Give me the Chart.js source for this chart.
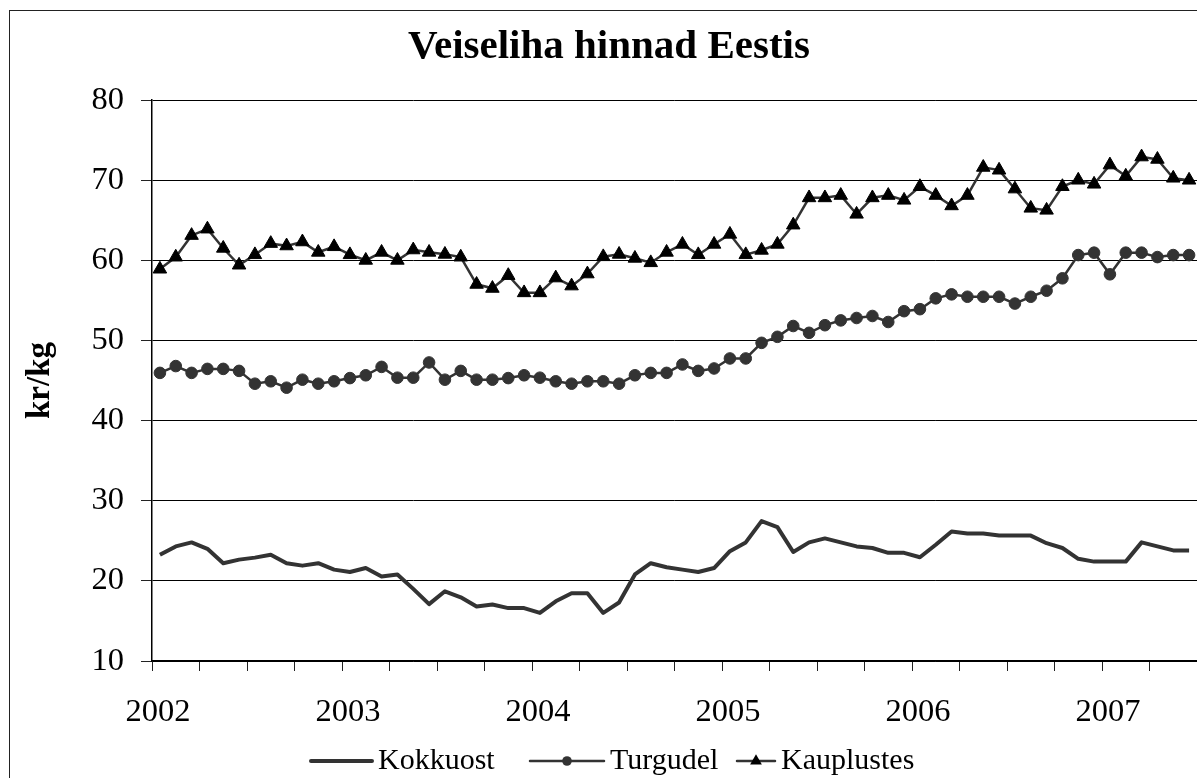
<!DOCTYPE html>
<html lang="et">
<head>
<meta charset="utf-8">
<title>Veiseliha hinnad Eestis</title>
<script src="https://cdn.jsdelivr.net/npm/chart.js@4.4.1/dist/chart.umd.min.js"></script>
<style>
  html, body { margin: 0; padding: 0; background: #fff; overflow: hidden; }
  body { width: 1197px; height: 778px; position: relative; }
  #raam { position: absolute; left: 9px; top: 10px; width: 1400px; height: 1000px; border: 1px solid #222; box-sizing: border-box; }
  #graafik { position: absolute; left: 0; top: 0; }
</style>
</head>
<body>
<div id="raam"></div>
<canvas id="graafik" width="1197" height="778"></canvas>
<script>
// aastad x-teljel (iga 12 kuu tagant)
const aastad = ['2002', '2003', '2004', '2005', '2006', '2007'];

// kuised hinnad, jaan 2002 - juuni 2007 (kr/kg)
const kokkuost = [
    23.25, 24.3, 24.8, 24.0, 22.2, 22.65, 22.9, 23.25, 22.2, 21.9, 22.2, 21.4,
    21.1, 21.6, 20.55, 20.8, 19.0, 17.1, 18.7, 17.95, 16.8, 17.05, 16.6, 16.6,
    16.0, 17.45, 18.45, 18.45, 16.0, 17.3, 20.8, 22.2, 21.7, 21.4, 21.1, 21.6,
    23.7, 24.8, 27.45, 26.7, 23.6, 24.8, 25.3, 24.8, 24.3, 24.1, 23.5, 23.5,
    22.95, 24.5, 26.15, 25.9, 25.9, 25.65, 25.65, 25.65, 24.7, 24.1, 22.75, 22.4,
    22.4, 22.4, 24.8, 24.3, 23.8, 23.8
];
const turgudel = [
    45.95, 46.8, 45.95, 46.45, 46.45, 46.2, 44.6, 44.9, 44.1, 45.1, 44.6, 44.9,
    45.3, 45.65, 46.7, 45.35, 45.35, 47.25, 45.1, 46.2, 45.1, 45.1, 45.3, 45.65,
    45.35, 44.9, 44.6, 44.9, 44.9, 44.6, 45.65, 45.95, 45.95, 47.0, 46.2, 46.5,
    47.75, 47.75, 49.7, 50.45, 51.8, 50.95, 51.9, 52.5, 52.8, 53.05, 52.3, 53.65,
    53.9, 55.25, 55.75, 55.45, 55.45, 55.45, 54.6, 55.45, 56.2, 57.75, 60.65, 60.95,
    58.25, 60.95, 60.95, 60.4, 60.65, 60.65
];
const kauplustes = [
    58.9, 60.4, 63.1, 63.9, 61.5, 59.4, 60.7, 62.1, 61.8, 62.3, 61.0, 61.7,
    60.7, 60.0, 61.0, 60.0, 61.3, 61.0, 60.75, 60.4, 57.0, 56.5, 58.1, 55.95,
    55.95, 57.8, 56.8, 58.3, 60.45, 60.75, 60.25, 59.7, 61.0, 62.0, 60.7, 62.0,
    63.25, 60.7, 61.25, 62.0, 64.4, 67.8, 67.8, 68.1, 65.75, 67.8, 68.1, 67.5,
    69.2, 68.1, 66.8, 68.1, 71.6, 71.25, 68.9, 66.5, 66.25, 69.2, 70.0, 69.5,
    71.9, 70.5, 72.9, 72.6, 70.25, 70.0
];

// kuu keskpunkt lineaarsel teljel (kuu number + 0.5)
function punktid(arr) {
    return arr.map((v, i) => ({ x: i + 0.5, y: v }));
}

// pealkiri on originaalis veidi paremal
const pealkiriNihe = {
    id: 'pealkiriNihe',
    afterLayout(chart) {
        const t = chart.titleBlock;
        if (!t) return;
        const dx = 609 - (t.left + t.right) / 2;
        t.left += dx;
        t.right += dx;
    }
};

// legend all: joon + marker + tekst (asukohad originaalist mõõdetud)
const legendiKohad = [
    { joonAlgus: 311, joonLopp: 372, tekst: 378 },
    { joonAlgus: 530, joonLopp: 604, tekst: 610 },
    { joonAlgus: 737, joonLopp: 775, tekst: 781 }
];

const alumineLegend = {
    id: 'alumineLegend',
    afterDraw(chart) {
        const ctx = chart.ctx;
        const y = 761;
        ctx.save();
        ctx.font = '30px "Liberation Serif", "Times New Roman", serif';
        ctx.textBaseline = 'middle';
        ctx.textAlign = 'left';
        chart.data.datasets.forEach((ds, i) => {
            const k = legendiKohad[i];
            ctx.strokeStyle = ds.borderColor;
            ctx.lineWidth = ds.borderWidth;
            ctx.lineCap = 'round';
            ctx.beginPath();
            ctx.moveTo(k.joonAlgus, y);
            ctx.lineTo(k.joonLopp, y);
            ctx.stroke();

            const cx = (k.joonAlgus + k.joonLopp) / 2;
            ctx.fillStyle = ds.pointBackgroundColor || '#000';
            if (ds.pointStyle === 'circle' && ds.pointRadius > 0) {
                ctx.beginPath();
                ctx.arc(cx, y, ds.pointRadius - 1, 0, Math.PI * 2);
                ctx.fill();
            } else if (ds.pointStyle === 'triangle') {
                const r = ds.pointRadius - 1;
                ctx.beginPath();
                ctx.moveTo(cx, y - r);
                ctx.lineTo(cx + r * 0.866, y + r * 0.5);
                ctx.lineTo(cx - r * 0.866, y + r * 0.5);
                ctx.closePath();
                ctx.fill();
            }

            ctx.fillStyle = '#000';
            ctx.fillText(ds.label, k.tekst, y);
        });
        ctx.restore();
    }
};

function joonistaGraafik() {
    const canvas = document.getElementById('graafik');
    if (!canvas) return;
    const ctx = canvas.getContext('2d');

    Chart.defaults.font.family = '"Liberation Serif", "Times New Roman", serif';
    Chart.defaults.color = '#000';

    window.graafik = new Chart(ctx, {
        type: 'line',
        plugins: [pealkiriNihe, alumineLegend],
        data: {
            datasets: [
                {
                    label: 'Kokkuost',
                    data: punktid(kokkuost),
                    borderColor: '#333',
                    borderWidth: 4,
                    borderJoinStyle: 'round',
                    pointRadius: 0,
                    tension: 0
                },
                {
                    label: 'Turgudel',
                    data: punktid(turgudel),
                    borderColor: '#333',
                    borderWidth: 2.5,
                    pointStyle: 'circle',
                    pointRadius: 5.8,
                    pointBackgroundColor: '#333',
                    pointBorderColor: '#333',
                    pointBorderWidth: 1,
                    tension: 0
                },
                {
                    label: 'Kauplustes',
                    data: punktid(kauplustes),
                    borderColor: '#333',
                    borderWidth: 2.5,
                    pointStyle: 'triangle',
                    pointRadius: 7.8,
                    pointBackgroundColor: '#000',
                    pointBorderColor: '#000',
                    pointBorderWidth: 1,
                    tension: 0
                }
            ]
        },
        options: {
            responsive: false,
            devicePixelRatio: 1,
            animation: false,
            layout: { padding: 0, autoPadding: false },
            plugins: {
                legend: { display: false },
                tooltip: { enabled: false },
                title: {
                    display: true,
                    text: 'Veiseliha hinnad Eestis',
                    color: '#000',
                    font: { size: 41, weight: 'bold' },
                    padding: { top: 22.9, bottom: 27.9 }
                }
            },
            scales: {
                x: {
                    type: 'linear',
                    min: 0,
                    max: 66,
                    afterFit(scale) {
                        scale.height = 117;
                        scale.paddingRight = 0; // muidu jääb paremale tühi riba
                    },
                    grid: {
                        drawOnChartArea: false,
                        drawTicks: true,
                        tickLength: 10,
                        tickColor: '#222',
                        tickWidth: 1
                    },
                    border: { display: true, color: '#000', width: 1.5 },
                    ticks: {
                        stepSize: 3,
                        maxTicksLimit: 100,
                        autoSkip: false,
                        maxRotation: 0,
                        minRotation: 0,
                        padding: 22,
                        labelOffset: 6,
                        color: '#000',
                        font: { size: 32.5 },
                        callback: v => (v % 12 === 0 ? aastad[v / 12] : '')
                    }
                },
                y: {
                    min: 10,
                    max: 80,
                    afterFit(scale) { scale.width = 152; },
                    grid: {
                        color: '#000',
                        lineWidth: 1,
                        tickLength: 11,
                        tickColor: '#222'
                    },
                    border: { display: true, color: '#000', width: 1.5 },
                    ticks: {
                        stepSize: 10,
                        padding: 17,
                        color: '#000',
                        font: { size: 32.5 }
                    },
                    title: {
                        display: true,
                        text: 'kr/kg',
                        color: '#000',
                        font: { size: 33, weight: 'bold' },
                        padding: { top: 20.2, bottom: 0 }
                    }
                }
            }
        }
    });
}

joonistaGraafik();
</script>
</body>
</html>
